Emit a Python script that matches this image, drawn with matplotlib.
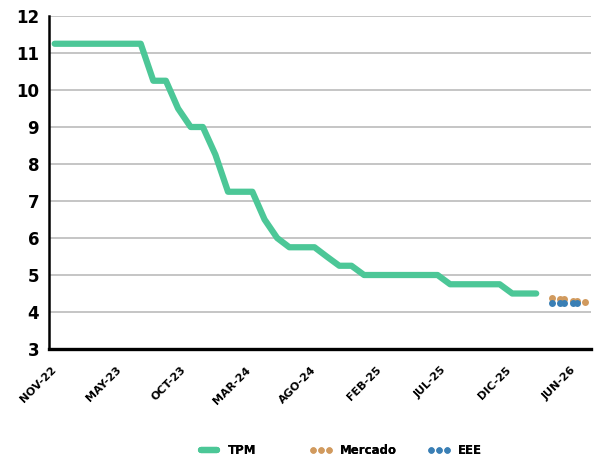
import pandas as pd
import matplotlib.pyplot as plt
import matplotlib.transforms as mtransforms
from matplotlib.lines import Line2D

# TPM, month-end values nov-22 .. feb-26
tpm_dates = pd.date_range("2022-11-30", "2026-02-28", freq="ME")
tpm = [11.25, 11.25, 11.25, 11.25, 11.25, 11.25, 11.25, 11.25,
       10.25, 10.25, 9.5, 9.0, 9.0, 8.25,
       7.25, 7.25, 7.25, 6.5, 6.0, 5.75, 5.75, 5.75, 5.5, 5.25, 5.25,
       5.0, 5.0, 5.0, 5.0, 5.0, 5.0, 5.0,
       4.75, 4.75, 4.75, 4.75, 4.75,
       4.5, 4.5, 4.5]

mercado_dates = pd.to_datetime(["2026-04-08", "2026-04-28", "2026-05-08",
                                "2026-05-30", "2026-06-09", "2026-06-28"])
mercado = [4.38, 4.34, 4.34, 4.31, 4.31, 4.26]

eee_dates = pd.to_datetime(["2026-04-08", "2026-04-28", "2026-05-08",
                            "2026-05-30", "2026-06-09"])
eee = [4.25, 4.25, 4.25, 4.25, 4.25]

tick_labels = ["NOV-22", "MAY-23", "OCT-23", "MAR-24", "AGO-24",
               "FEB-25", "JUL-25", "DIC-25", "JUN-26"]
tick_dates = pd.date_range("2022-11-30", periods=len(tick_labels), freq="160D")

green = "#4cc797"
orange = "#d19a5e"
blue = "#3a7fb5"

fig = plt.figure(figsize=(5.97, 4.57), dpi=100)
ax = fig.add_axes([0.082, 0.2363, 0.908, 0.7287])

ax.plot(tpm_dates, tpm, color=green, lw=4.5,
        solid_capstyle="round", solid_joinstyle="round", zorder=3)
ax.plot(mercado_dates, mercado, ls="none", marker="o", ms=5,
        color=orange, mec="none", zorder=3)
ax.plot(eee_dates, eee, ls="none", marker="o", ms=5,
        color=blue, mec="none", zorder=4)

ax.set_ylim(3, 12)
ax.set_yticks(range(3, 13))
ax.set_xlim(pd.Timestamp("2022-11-16"), pd.Timestamp("2026-07-13"))
ax.set_xticks(tick_dates)
ax.set_xticklabels(tick_labels, rotation=45, ha="right", va="center",
                   rotation_mode="anchor", fontsize=8, fontweight="bold")
shift = mtransforms.ScaledTranslation(0.04, 0, fig.dpi_scale_trans)
for lab in ax.get_xticklabels():
    lab.set_transform(lab.get_transform() + shift)
for lab in ax.get_yticklabels():
    lab.set_fontsize(12)
    lab.set_fontweight("bold")
ax.tick_params(axis="both", length=0, colors="black")
ax.tick_params(axis="y", pad=7)
ax.tick_params(axis="x", pad=14)

ax.grid(axis="y", color="#c0c0c0", lw=1.3)
ax.set_axisbelow(True)
for s in ["top", "right"]:
    ax.spines[s].set_visible(False)
ax.spines["left"].set_linewidth(1.8)
ax.spines["bottom"].set_linewidth(2.4)

# legend: one entry per box, placed like the original
handles = [
    Line2D([], [], color=green, lw=4.5, solid_capstyle="round"),
    Line2D([], [], color=orange, ls="none", marker="o", ms=4.6, mec="none"),
    Line2D([], [], color=blue, ls="none", marker="o", ms=4.6, mec="none"),
]
names = ["TPM", "Mercado", "EEE"]
lefts = [197 / 597, 309 / 597, 427 / 597]
for h, n, x0 in zip(handles, names, lefts):
    leg = fig.legend([h], [n], loc="center left", bbox_to_anchor=(x0, 0.015),
                     frameon=False, numpoints=3, handlelength=2.0,
                     handletextpad=0.6, borderpad=0, borderaxespad=0,
                     prop={"weight": "bold", "size": 8.5})
    fig.add_artist(leg)

fig.savefig("out.png", dpi=100)
